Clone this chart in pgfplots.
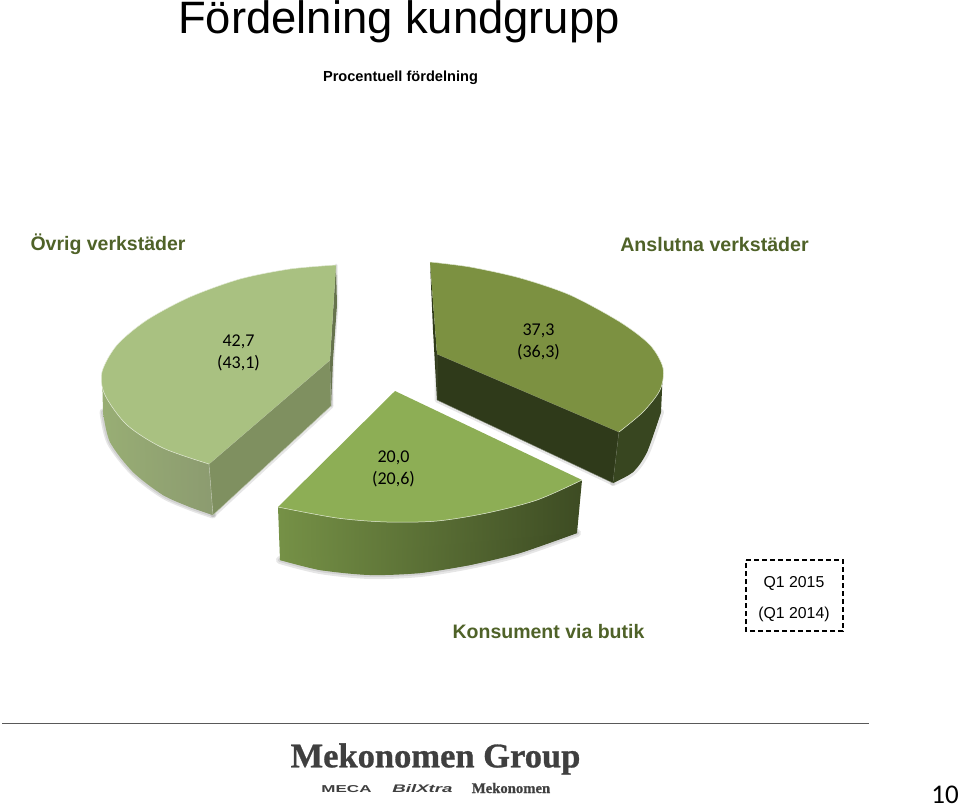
\documentclass[border=0pt]{standalone}
\usepackage{graphicx}
\usepackage{fontspec}
\setmainfont{Liberation Sans}
\newfontfamily\valfont{Carlito}
\newfontfamily\logofont[BoldFeatures={FakeBold=0.8}]{Liberation Serif}
\usepackage{pgfplots}
\usepackage{pgfplotstable}
\pgfplotsset{compat=1.18}

\definecolor{lbltxt}{HTML}{4F6228}
\definecolor{lefttop}{HTML}{A9C181}
\definecolor{leftcut}{HTML}{7F9060}
\definecolor{righttop}{HTML}{7C9141}
\definecolor{rightdark}{HTML}{2F3A1A}
\definecolor{lowtop}{HTML}{8DAE55}
\definecolor{logogray}{HTML}{3F3F3F}

\tikzset{
  halo/.style={draw=black!60, draw opacity=0.16, line width=#1, line join=round, line cap=round, fill=none},
  edge/.style={draw=white!70!lefttop, line width=0.5pt},
  lbl/.style={anchor=center, inner sep=0pt},
}

% all pieces in picture pixels, y downwards
% left slice
\pgfplotstableread{
x y
336 265
290 269
240 279
190 297
147 320
117 345
102 372
105 395
127 425
163 448
209 464
}\leftArc
\pgfplotstableread{
x y
336 265
290 269
240 279
190 297
147 320
117 345
102 372
105 395
127 425
163 448
209 464
330 360
336 265
}\leftWedge
\pgfplotstableread{
x y
102 372
103 412
110 442
133 472
163 495
190 507
213 515
209 464
102 372
}\leftBody
\pgfplotstableread{
x y
103 412
110 442
133 472
163 495
190 507
213 515
}\leftBottom
\pgfplotstableread{
x y
209 464
213 515
331 406
330 360
209 464
}\leftCut
\pgfplotstableread{
x y
336 265
337 305
333 360
331 406
330 360
336 265
}\leftSliver
% right slice
\pgfplotstableread{
x y
430 262
470 267
520 278
570 295
620 322
650 345
663 368
660 390
643 412
619 432
}\rightArc
\pgfplotstableread{
x y
430 262
470 267
520 278
570 295
620 322
650 345
663 368
660 390
643 412
619 432
437 354
430 262
}\rightWedge
\pgfplotstableread{
x y
437 354
619 432
613 483
437 400
437 354
}\rightCut
\pgfplotstableread{
x y
663 368
661 412
647 452
633 472
613 483
619 432
663 368
}\rightBody
\pgfplotstableread{
x y
661 412
647 452
633 472
613 483
}\rightBottom
\pgfplotstableread{
x y
430 262
437 354
437 400
433 330
430 262
}\rightSliver
% lower slice
\pgfplotstableread{
x y
278 507
337 518
387 522
437 521
487 513
537 500
582 480
}\lowArc
\pgfplotstableread{
x y
395 391
582 480
537 500
487 513
437 521
387 522
337 518
278 507
395 391
}\lowWedge
\pgfplotstableread{
x y
278 507
280 560
320 570
370 575
420 573
470 565
520 553
577 533
582 480
278 507
}\lowBody
\pgfplotstableread{
x y
280 560
320 570
370 575
420 573
470 565
520 553
577 533
}\lowBottom
\pgfplotstableread{
x y
746 560
843 560
843 631
746 631
746 560
}\legendBox
\pgfplotstableread{
x y
2 723
869 723
}\footLine

\begin{document}
\begin{tikzpicture}
\begin{axis}[
  name=ax,
  width=960pt, height=807pt, scale only axis,
  xmin=0, xmax=960, ymin=0, ymax=807, y dir=reverse,
  axis lines=none, clip=false, no markers,
]
% left slice
\addplot[halo=7pt, smooth] table {\leftBottom};
\addplot[halo=4pt, smooth] table {\leftBottom};
\addplot[halo=5pt] table {\leftCut};
\addplot[halo=3pt] table {\leftSliver};
\addplot[draw=none, left color=lefttop!90!black, right color=leftcut!90!white] table {\leftBody};
\addplot[draw=none, smooth, left color=lefttop!90!black, right color=leftcut!90!white] table {\leftBottom};
\addplot[fill=leftcut, draw=white!50!leftcut, line width=0.4pt] table {\leftCut};
\addplot[fill=leftcut!80!black, draw=none] table {\leftSliver};
\addplot[fill=lefttop, draw=none] table {\leftWedge};
\addplot[fill=lefttop, edge, smooth] table {\leftArc};
% right slice
\addplot[halo=5pt] table {\rightCut};
\addplot[halo=6pt, smooth] table {\rightBottom};
\addplot[fill=rightdark, draw=none] table {\rightSliver};
\addplot[fill=rightdark, draw=white!40!rightdark, line width=0.4pt] table {\rightCut};
\addplot[fill=rightdark!90!lowtop, draw=none] table {\rightBody};
\addplot[fill=rightdark!90!lowtop, draw=none, smooth] table {\rightBottom};
\addplot[fill=righttop, draw=none] table {\rightWedge};
\addplot[fill=righttop, edge, smooth] table {\rightArc};
% lower slice
\addplot[halo=8pt, smooth] table {\lowBottom};
\addplot[halo=4pt, smooth] table {\lowBottom};
\addplot[draw=none, left color=lowtop!75!rightdark, right color=rightdark!85!lowtop] table {\lowBody};
\addplot[draw=none, smooth, left color=lowtop!75!rightdark, right color=rightdark!85!lowtop] table {\lowBottom};
\addplot[fill=lowtop, draw=none] table {\lowWedge};
\addplot[fill=lowtop, edge, smooth] table {\lowArc};
% dashed box and foot line
\addplot[black, line width=1.2pt, dash pattern=on 5pt off 3pt] table {\legendBox};
\addplot[black!65, line width=1pt] table {\footLine};

% texts
\node[lbl] at (axis cs:399,22) {\fontsize{45.4}{46}\selectfont Fördelning kundgrupp};
\node[lbl] at (axis cs:400.5,78) {\fontsize{14.6}{15}\selectfont\bfseries Procentuell fördelning};
\node[lbl, text=lbltxt] at (axis cs:108,244) {\fontsize{19.5}{20}\selectfont\bfseries Övrig verkstäder};
\node[lbl, text=lbltxt] at (axis cs:714.5,244) {\fontsize{19.6}{20}\selectfont\bfseries Anslutna verkstäder};
\node[lbl, text=lbltxt] at (axis cs:548.5,632) {\fontsize{19.5}{20}\selectfont\bfseries Konsument via butik};
\node[lbl, align=center, font=\fontsize{18}{22}\selectfont\valfont] at (axis cs:238.5,353) {42,7\\(43,1)};
\node[lbl, align=center, font=\fontsize{18}{22}\selectfont\valfont] at (axis cs:538.5,342) {37,3\\(36,3)};
\node[lbl, align=center, font=\fontsize{18}{22}\selectfont\valfont] at (axis cs:393.5,469) {20,0\\(20,6)};
\node[lbl] at (axis cs:794,583) {\fontsize{15.8}{16}\selectfont Q1 2015};
\node[lbl] at (axis cs:794,614) {\fontsize{15.8}{16}\selectfont (Q1 2014)};
\node[lbl, text=logogray] at (axis cs:435.5,759) {\fontsize{34.5}{35}\selectfont\logofont\bfseries Mekonomen Group};
\node[lbl, text=logogray] at (axis cs:346.5,789) {\scalebox{1.7}[1]{\fontsize{10}{10}\selectfont\bfseries MECA}};
\node[lbl, text=logogray] at (axis cs:422.5,789) {\scalebox{1.7}[1]{\fontsize{11}{11}\selectfont\bfseries\itshape BilXtra}};
\node[lbl, text=logogray] at (axis cs:511,788) {\fontsize{14.7}{15}\selectfont\logofont\bfseries Mekonomen};
\node[lbl] at (axis cs:945,795) {\fontsize{27}{27}\selectfont\valfont 10};
\end{axis}
\pgfresetboundingbox
\useasboundingbox (ax.south west) rectangle (ax.north east);
\end{tikzpicture}
\end{document}
